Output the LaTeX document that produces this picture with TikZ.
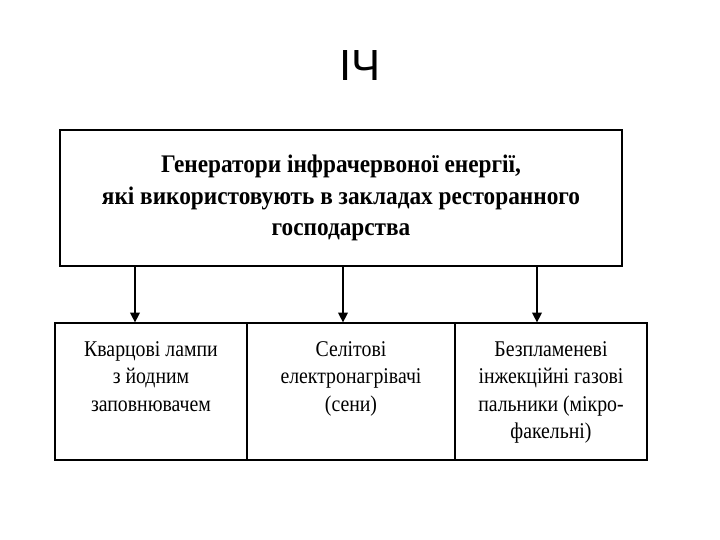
\documentclass[tikz,border=0pt]{standalone}
\usepackage{fontspec}
\setmainfont{Liberation Serif}
\newfontfamily\titlefont{Liberation Sans}
\newfontfamily\cellfont[FakeStretch=0.92]{Liberation Serif}
\newfontfamily\narrowfont[FakeStretch=0.88]{Liberation Serif}
\usetikzlibrary{arrows.meta}
\tikzset{
  headbox/.style={draw=black, line width=0.9pt, minimum width=14.05cm, minimum height=3.4cm, inner sep=0pt},
  cellbox/.style={draw=black, line width=0.9pt, minimum height=3.425cm, inner sep=0pt},
  feed/.style={draw=black, line width=1pt, -{Triangle[length=7pt,width=7pt]}},
  headtext/.style={font=\cellfont\bfseries\fontsize{18}{22.3}\selectfont},
  celltext/.style={font=\narrowfont\fontsize{16}{19.5}\selectfont, align=center, anchor=north, inner sep=0pt},
}

\begin{document}
\begin{tikzpicture}
\useasboundingbox (0,0) rectangle (18,13.5);
\node[font=\titlefont\fontsize{31}{36}\selectfont] (title) at (9.0,11.85) {ІЧ};
\node[headbox, headtext, align=center] (gen) at (8.525,8.55)
  {Генератори інфрачервоної енергії,\\ які використовують в закладах ресторанного\\ господарства};
% three kinds of generators
\node[cellbox, minimum width=4.8cm] (quartz) at (3.775,3.7125) {};
\node[cellbox, minimum width=5.2cm] (selit) at (8.775,3.7125) {};
\node[cellbox, minimum width=4.8cm] (burner) at (13.775,3.7125) {};
\node[celltext] (quartz-t) at ([yshift=-0.47cm]quartz.north) {Кварцові лампи\\ з йодним\\ заповнювачем};
\node[celltext] (selit-t) at ([yshift=-0.47cm]selit.north) {Селітові\\ електронагрівачі\\ (сени)};
\node[celltext] (burner-t) at ([yshift=-0.47cm]burner.north) {Безпламеневі\\ інжекційні газові\\ пальники (мікро-\\ факельні)};
\draw[feed] ([xshift=-0.4cm]quartz.north |- gen.south) -- ([xshift=-0.4cm]quartz.north);
\draw[feed] ([xshift=-0.2cm]selit.north |- gen.south) -- ([xshift=-0.2cm]selit.north);
\draw[feed] ([xshift=-0.35cm]burner.north |- gen.south) -- ([xshift=-0.35cm]burner.north);
\end{tikzpicture}
\end{document}
